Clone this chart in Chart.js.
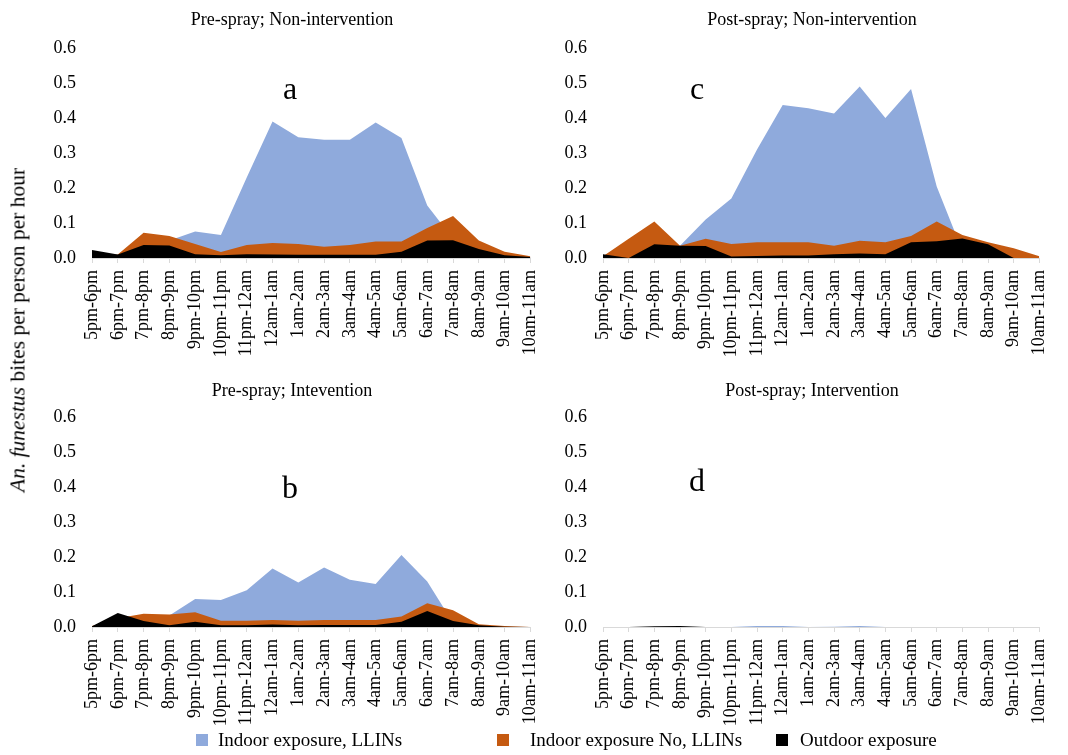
<!DOCTYPE html>
<html><head><meta charset="utf-8">
<script src="https://cdn.jsdelivr.net/npm/chart.js@4/dist/chart.umd.min.js"></script>
<style>
body{margin:0;width:1068px;height:755px;background:#fff;position:relative;overflow:hidden;font-family:"Liberation Serif","Times New Roman",serif;color:#000;}
canvas{position:absolute;}
.t{position:absolute;font-size:18px;line-height:20px;white-space:nowrap;transform:translateX(-50%);}
.L{position:absolute;font-size:32px;line-height:36px;transform:translate(-50%,-50%);}
.yt{position:absolute;left:18px;top:330px;font-size:21.5px;white-space:nowrap;transform:translate(-50%,-50%) rotate(-90deg);}
.lg{position:absolute;top:729px;font-size:19px;line-height:22px;white-space:nowrap;}
.sq{position:absolute;width:12px;height:12px;top:734px;}
</style></head><body>
<canvas id="ca" width="559" height="363" style="left:0;top:0"></canvas>
<canvas id="cc" width="508" height="363" style="left:560px;top:0"></canvas>
<canvas id="cb" width="559" height="362" style="left:0;top:370px"></canvas>
<canvas id="cd" width="508" height="362" style="left:560px;top:370px"></canvas>

<div class="t" style="left:292px;top:9px">Pre-spray; Non-intervention</div>
<div class="t" style="left:812px;top:9px">Post-spray; Non-intervention</div>
<div class="t" style="left:292px;top:380px">Pre-spray; Intevention</div>
<div class="t" style="left:812px;top:380px">Post-spray; Intervention</div>
<div class="L" style="left:290px;top:88px">a</div>
<div class="L" style="left:697px;top:88px">c</div>
<div class="L" style="left:290px;top:487px">b</div>
<div class="L" style="left:697px;top:480px">d</div>
<div class="yt"><i>An. funestus</i> bites per person per hour</div>

<div class="sq" style="left:196px;background:#8FAADC"></div>
<div class="lg" style="left:218px">Indoor exposure, LLINs</div>
<div class="sq" style="left:497px;background:#C55A11"></div>
<div class="lg" style="left:530px">Indoor exposure No, LLINs</div>
<div class="sq" style="left:776px;background:#000"></div>
<div class="lg" style="left:800px">Outdoor exposure</div>

<script>
const hours = ['5pm-6pm','6pm-7pm','7pm-8pm','8pm-9pm','9pm-10pm','10pm-11pm','11pm-12am','12am-1am','1am-2am','2am-3am','3am-4am','4am-5am','5am-6am','6am-7am','7am-8am','8am-9am','9am-10am','10am-11am'];
const yTicks = [0, 0.1, 0.2, 0.3, 0.4, 0.5, 0.6];
const seriesNames = ['Indoor exposure, LLINs', 'Indoor exposure No, LLINs', 'Outdoor exposure'];

// a: Pre-spray; Non-intervention
const llinA    = [0, 0.01, 0.03, 0.05, 0.076, 0.066, 0.23, 0.39, 0.345, 0.338, 0.338, 0.387, 0.343, 0.15, 0.055, 0.03, 0.01, 0.003];
const noLlinA  = [0.005, 0.01, 0.072, 0.063, 0.04, 0.017, 0.037, 0.043, 0.04, 0.032, 0.037, 0.047, 0.047, 0.086, 0.12, 0.05, 0.018, 0.005];
const outdoorA = [0.023, 0.01, 0.037, 0.036, 0.011, 0.008, 0.011, 0.01, 0.009, 0.009, 0.009, 0.009, 0.018, 0.05, 0.051, 0.026, 0.008, 0.003];
// c: Post-spray; Non-intervention
const llinC    = [0, 0, 0.02, 0.035, 0.11, 0.17, 0.31, 0.437, 0.428, 0.413, 0.49, 0.4, 0.483, 0.204, 0.02, 0.01, 0.005, 0];
const noLlinC  = [0.005, 0.055, 0.104, 0.035, 0.055, 0.04, 0.045, 0.045, 0.045, 0.035, 0.049, 0.045, 0.063, 0.104, 0.066, 0.045, 0.028, 0.005];
const outdoorC = [0.011, 0, 0.039, 0.035, 0.034, 0.004, 0.006, 0.007, 0.007, 0.011, 0.013, 0.011, 0.045, 0.048, 0.056, 0.039, 0, 0];
// b: Pre-spray; Intevention
const llinB    = [0, 0.01, 0.025, 0.033, 0.08, 0.077, 0.105, 0.167, 0.127, 0.17, 0.135, 0.123, 0.206, 0.13, 0.012, 0.005, 0, 0];
const noLlinB  = [0.003, 0.025, 0.038, 0.036, 0.042, 0.018, 0.018, 0.02, 0.018, 0.02, 0.02, 0.02, 0.03, 0.068, 0.048, 0.008, 0.003, 0];
const outdoorB = [0.002, 0.04, 0.017, 0.005, 0.015, 0.005, 0.005, 0.007, 0.005, 0.006, 0.006, 0.006, 0.015, 0.046, 0.017, 0.005, 0.001, 0];
// d: Post-spray; Intervention
const llinD    = [0, 0, 0, 0, 0, 0, 0.003, 0.003, 0, 0.001, 0.003, 0, 0, 0, 0, 0, 0, 0];
const noLlinD  = [0, 0, 0, 0, 0, 0, 0, 0, 0, 0, 0, 0, 0, 0, 0, 0, 0, 0];
const outdoorD = [0, 0, 0.002, 0.003, 0, 0, 0, 0, 0, 0, 0, 0, 0, 0, 0, 0, 0, 0];

const colors = ['#8FAADC', '#C55A11', '#000000'];

Chart.defaults.font.family = '"Liberation Serif","Times New Roman",serif';
Chart.defaults.font.size = 18;
Chart.defaults.color = '#000';

function makeChart(id, series, yWidth, padTop, padRight) {
  const datasets = series.map((d, i) => ({
    label: seriesNames[i],
    data: d,
    backgroundColor: colors[i],
    borderColor: colors[i],
    borderWidth: 0,
    pointRadius: 0,
    tension: 0,
    fill: 'origin',
    order: 3 - i
  }));
  new Chart(document.getElementById(id), {
    type: 'line',
    data: { labels: hours, datasets },
    options: {
      responsive: false,
      animation: false,
      layout: { padding: { top: padTop, right: padRight, left: 0, bottom: 0 } },
      plugins: { legend: { display: false }, tooltip: { enabled: false } },
      scales: {
        x: {
          offset: false,
          grid: { drawOnChartArea: false, drawTicks: true, tickLength: 5, color: '#d9d9d9' },
          border: { color: '#d9d9d9' },
          ticks: { autoSkip: false, maxRotation: 90, minRotation: 90, padding: 7 },
          afterFit: s => { s.height = 105; }
        },
        y: {
          min: 0, max: 0.6,
          afterBuildTicks: s => { s.ticks = yTicks.map(v => ({ value: v })); },
          grid: { display: false, drawTicks: false },
          border: { display: false },
          ticks: { padding: 16, callback: v => Number(v).toFixed(1) },
          afterFit: s => { s.width = yWidth; }
        }
      }
    }
  });
}

makeChart('ca', [llinA, noLlinA, outdoorA], 92, 48, 20);
makeChart('cc', [llinC, noLlinC, outdoorC], 43, 48, 15);
makeChart('cb', [llinB, noLlinB, outdoorB], 92, 47, 20);
makeChart('cd', [llinD, noLlinD, outdoorD], 43, 47, 15);
</script>
</body></html>
